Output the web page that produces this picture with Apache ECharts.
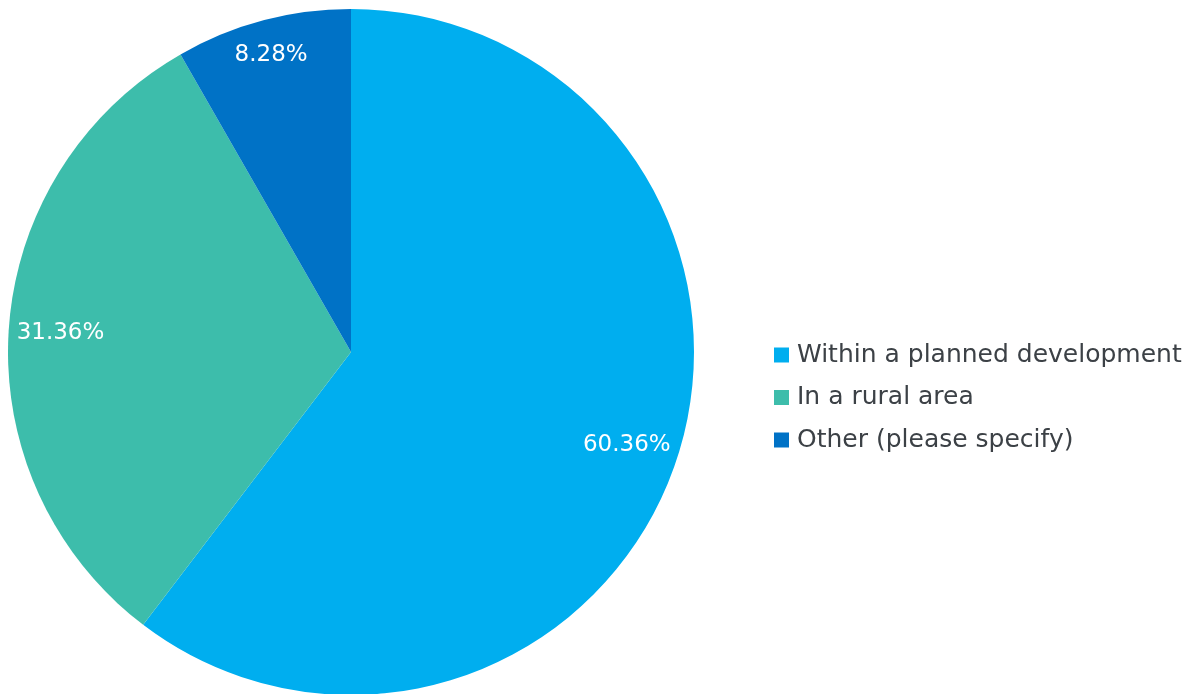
<!DOCTYPE html>
<html><head><meta charset="utf-8">
<script src="https://cdn.jsdelivr.net/npm/echarts@6/dist/echarts.min.js"></script>
<style>html,body{margin:0;padding:0;background:#fff}#c{width:1192px;height:694px}</style>
</head><body><div id="c"></div>
<script>
const categories = ['Within a planned development', 'In a rural area', 'Other (please specify)'];
const values = [60.36, 31.36, 8.28];
const colors = ['#00AEEF', '#3DBDAB', '#0072C6'];

const R = 343;
const chart = echarts.init(document.getElementById('c'), null, {renderer: 'canvas'});
const data = categories.map((n, i) => ({name: n, value: values[i], itemStyle: {color: colors[i]}}));
const ghost = categories.map((n, i) => ({
  name: n, value: values[i],
  itemStyle: {color: 'rgba(0,0,0,0)'},
  label: i === 2 ? {offset: [-5, -16]} : {}
}));
chart.setOption({
  animation: false,
  legend: {
    orient: 'vertical', left: 769, top: 336,
    itemWidth: 15, itemHeight: 15, itemGap: 14.5,
    icon: 'rect',
    data: categories,
    textStyle: {fontFamily: 'DejaVu Sans', fontSize: 25, color: '#3c4146', lineHeight: 28, padding: [0,0,0,3]}
  },
  series: [
    {
      type: 'pie', center: [351, 352], radius: [0, R], startAngle: 90, clockwise: true,
      label: {show: false}, labelLine: {show: false}, silent: true,
      data: data
    },
    {
      type: 'pie', center: [351, 352], radius: [0, R * 1.68], startAngle: 90, clockwise: true,
      silent: true, legendHoverLink: false,
      label: {show: true, position: 'inside', formatter: p => p.value.toFixed(2) + '%',
        color: '#fff', fontFamily: 'DejaVu Sans', fontSize: 23},
      labelLine: {show: false},
      data: ghost
    }
  ]
});
</script></body></html>
